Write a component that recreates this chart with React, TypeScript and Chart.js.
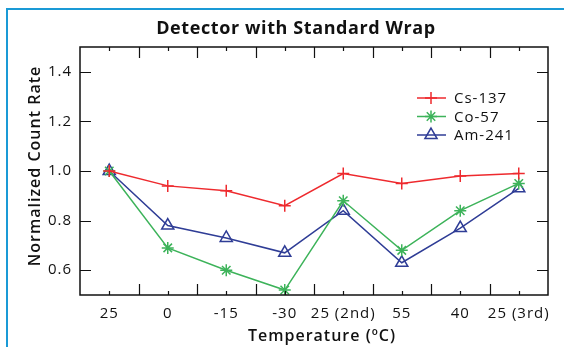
import React, { useEffect, useRef } from "react";
import { Chart, registerables } from "chart.js";
import { drawPoint } from "chart.js/helpers";

Chart.register(...registerables);

const categories = ["25", "0", "-15", "-30", "25 (2nd)", "55", "40", "25 (3rd)"];
const cs137 = [1.0, 0.94, 0.92, 0.86, 0.99, 0.95, 0.98, 0.99];
const co57 = [1.0, 0.69, 0.6, 0.52, 0.88, 0.68, 0.84, 0.95];
const am241 = [1.0, 0.78, 0.73, 0.67, 0.84, 0.63, 0.77, 0.93];
const yTicks = [0.6, 0.8, 1.0, 1.2, 1.4];

const FONT = "'Open Sans', sans-serif";
const RED = "#ee2a2e";
const GREEN = "#3db35a";
const BLUE = "#2f3d96";

const decorPlugin = {
  id: "decor",
  beforeDraw(chart: any) {
    const ctx = chart.ctx;
    ctx.save();
    ctx.fillStyle = "#ffffff";
    ctx.fillRect(0, 0, chart.width, chart.height);
    ctx.strokeStyle = "#1a9ad6";
    ctx.lineWidth = 2;
    ctx.beginPath();
    ctx.moveTo(7, chart.height);
    ctx.lineTo(7, 9);
    ctx.lineTo(chart.width, 9);
    ctx.stroke();
    ctx.restore();
    (ctx as any).letterSpacing = "1px";
  },
  afterDraw(chart: any) {
    const ctx = chart.ctx;
    const a = chart.chartArea;
    const x = chart.scales.x;
    const y = chart.scales.y;
    ctx.save();
    ctx.strokeStyle = "#111";
    ctx.lineWidth = 1.5;
    ctx.strokeRect(a.left, a.top, a.right - a.left, a.bottom - a.top);
    ctx.lineWidth = 1.2;
    ctx.beginPath();
    const n = categories.length;
    const w = (a.right - a.left) / n;
    for (let i = 1; i < n; i++) {
      const px = Math.round(a.left + i * w) + 0.5;
      ctx.moveTo(px, a.bottom);
      ctx.lineTo(px, a.bottom - 11);
      ctx.moveTo(px, a.top);
      ctx.lineTo(px, a.top + 11);
    }
    for (let i = 0; i < n; i++) {
      const px = Math.round(x.getPixelForValue(i)) + 0.5;
      ctx.moveTo(px, a.bottom);
      ctx.lineTo(px, a.bottom - 4);
      ctx.moveTo(px, a.top);
      ctx.lineTo(px, a.top + 4);
    }
    yTicks.forEach((v) => {
      const py = Math.round(y.getPixelForValue(v)) + 0.5;
      ctx.moveTo(a.left, py);
      ctx.lineTo(a.left + 11, py);
      ctx.moveTo(a.right, py);
      ctx.lineTo(a.right - 11, py);
    });
    ctx.stroke();

    // titles
    ctx.fillStyle = "#111";
    ctx.textAlign = "center";
    ctx.textBaseline = "middle";
    (ctx as any).letterSpacing = "0.6px";
    ctx.font = `bold 18px ${FONT}`;
    ctx.fillText("Detector with Standard Wrap", 296, 29);
    (ctx as any).letterSpacing = "1px";
    ctx.font = `600 16px ${FONT}`;
    ctx.fillText("Temperature (ºC)", 322, 336);
    ctx.save();
    ctx.translate(35, 166);
    ctx.rotate(-Math.PI / 2);
    ctx.fillText("Normalized Count Rate", 0, 0);
    ctx.restore();

    // legend
    const items = [
      { label: "Cs-137", color: RED, style: "cross" },
      { label: "Co-57", color: GREEN, style: "star" },
      { label: "Am-241", color: BLUE, style: "triangle" },
    ];
    ctx.textAlign = "left";
    ctx.font = `500 15px ${FONT}`;
    items.forEach((it, i) => {
      const ly = 98 + i * 18.5;
      ctx.strokeStyle = it.color;
      ctx.fillStyle = "rgba(0,0,0,0)";
      ctx.lineWidth = 1.5;
      ctx.beginPath();
      ctx.moveTo(417, ly);
      ctx.lineTo(446, ly);
      ctx.stroke();
      drawPoint(ctx, {
        pointStyle: it.style,
        radius: it.style === "triangle" ? 7 : 6,
        borderWidth: 1.5,
        rotation: 0,
      } as any, 431, ly);
      ctx.fillStyle = "#111";
      ctx.fillText(it.label, 454, ly + 1);
    });
    ctx.restore();
  },
};

export default function App() {
  const ref = useRef<HTMLCanvasElement>(null);
  useEffect(() => {
    document.body.style.margin = "0";
    const mk = (label: string, data: number[], color: string, style: string, r: number) => ({
      label,
      data,
      borderColor: color,
      backgroundColor: "transparent",
      pointBorderColor: color,
      pointBackgroundColor: "transparent",
      pointStyle: style,
      pointRadius: r,
      pointBorderWidth: 1.5,
      borderWidth: 1.5,
      tension: 0,
    });
    const chart = new Chart(ref.current!, {
      type: "line",
      data: {
        labels: categories,
        datasets: [
          mk("Cs-137", cs137, RED, "cross", 6),
          mk("Co-57", co57, GREEN, "star", 6),
          mk("Am-241", am241, BLUE, "triangle", 7),
        ],
      },
      options: {
        animation: false,
        responsive: false,
        layout: { padding: { top: 47, right: 16, left: 0, bottom: 0 } },
        plugins: { legend: { display: false }, title: { display: false }, tooltip: { enabled: false } },
        scales: {
          x: {
            offset: true,
            grid: { display: false, drawTicks: false },
            border: { display: false },
            ticks: { color: "#111", font: { family: FONT, size: 15 }, padding: 10, maxRotation: 0, autoSkip: false },
            afterFit: (s: any) => { s.height = 52; },
          },
          y: {
            min: 0.5,
            max: 1.5,
            grid: { display: false, drawTicks: false },
            border: { display: false },
            afterBuildTicks: (s: any) => { s.ticks = yTicks.map((v) => ({ value: v })); },
            ticks: { color: "#111", font: { family: FONT, size: 15 }, padding: 8, callback: (v: any) => Number(v).toFixed(1) },
            afterFit: (s: any) => { s.width = 80; },
          },
        },
      },
      plugins: [decorPlugin],
    });
    return () => chart.destroy();
  }, []);
  return <canvas ref={ref} width={564} height={347} style={{ display: "block" }} />;
}
